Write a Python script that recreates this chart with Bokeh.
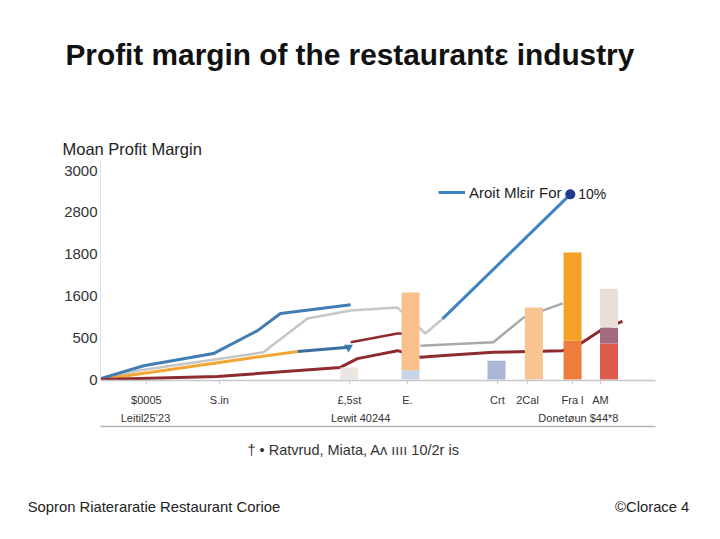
from math import pi
from bokeh.plotting import figure
from bokeh.models import Range1d, FixedTicker, LinearAxis, Label, Legend, LegendItem, Title
from bokeh.embed import file_html
from bokeh.resources import INLINE

# ---------------- data ----------------
y_tick_pos = [0, 1, 2, 3, 4, 5]
y_tick_labels = ["0", "500", "1600", "1800", "2800", "3000"]

x_row1_pos = [1.02, 2.64, 5.53, 6.82, 8.82, 9.49, 10.49, 11.11]
x_row1_labels = ["$0005", "S.in", "£,5st", "E.", "Crt", "2Cal", "Fra l", "AM"]
x_row2_pos = [1.0, 5.78, 10.62]
x_row2_labels = ["Leitil25’23", "Lewit 40244", "Donetøun $44*8"]

blue_x = [0, 0.96, 2.51, 3.49, 4.0, 5.56]
blue_y = [0.02, 0.33, 0.62, 1.17, 1.58, 1.79]

orange_x = [0, 0.89, 3.11, 4.38]
orange_y = [0, 0.14, 0.48, 0.67]

darkblue_x = [4.38, 5.51]
darkblue_y = [0.67, 0.77]

gray_x = [0, 0.89, 3.62, 4.6, 5.56, 6.6, 7.22, 7.6]
gray_y = [0.02, 0.22, 0.65, 1.46, 1.65, 1.72, 1.10, 1.45]

rise_x = [7.6, 10.44]
rise_y = [1.45, 4.43]

gray2_x = [7.11, 8.73, 9.4, 10.27]
gray2_y = [0.81, 0.89, 1.48, 1.82]

maroon_x = [0, 2.6, 5.33, 5.71, 6.6, 7.11, 7.56, 8.73, 10.27, 10.67, 11.18, 11.6]
maroon_y = [0, 0.07, 0.29, 0.50, 0.69, 0.53, 0.57, 0.65, 0.69, 0.86, 1.22, 1.39]

maroon2_x = [5.56, 6.6, 7.0]
maroon2_y = [0.89, 1.10, 1.10]

bar_x = [5.53, 6.89, 8.8, 9.63, 10.49, 11.3]
bar_low = [0.29, 0.22, 0.45, 1.72, 0.93, 0.86]
bar_mid = [0, 0, 0, 0, 0, 0.38]
bar_top = [0, 1.86, 0, 0, 2.11, 0.93]

low_colors = ["#ece6e0", "#c8d5e8", "#aab6d4", "#f8c490", "#ee7c3c", "#dd5b4c"]
mid_colors = ["#ffffff", "#ffffff", "#ffffff", "#ffffff", "#ffffff", "#a46a80"]
top_colors = ["#ffffff", "#f8c08a", "#ffffff", "#ffffff", "#f5a128", "#e8dfdb"]

footer_labels = ["Sopron Riateraratie Restaurant Corioe", "©Clorace 4"]

FONT = "Liberation Sans"

# ---------------- figure ----------------
PX = 45.0      # pixels per x unit
PY = 41.8      # pixels per y unit
FRAME_W = 555
X0, X1 = 0, FRAME_W / PX
Y0, Y1 = -1 / PY, 5.24

p = figure(width=720, height=539, output_backend="svg", toolbar_location=None,
           x_range=Range1d(X0, X1), y_range=Range1d(Y0, Y1),
           min_border_left=100, min_border_right=720 - 100 - FRAME_W, min_border_top=160,
           min_border_bottom=159, x_axis_type=None, y_axis_type=None)
p.outline_line_color = None
p.title.text = ""

# titles above (first added sits closest to the frame)
t_moan = Title(text="Moan Profit Margin", align="left", offset=-38, text_font=FONT,
               text_font_size="16.5px", text_font_style="normal", text_color="#222222",
               standoff=5)
p.add_layout(t_moan, "above")
t_gap = Title(text=" ", align="left", text_font=FONT, text_font_size="10px", standoff=52)
p.add_layout(t_gap, "above")
t_main = Title(text="Profit margin of the restaurantε industry", align="left", offset=-35,
               text_font=FONT, text_font_size="29.8px", text_font_style="bold",
               text_color="#111111", standoff=0)
p.add_layout(t_main, "above")

# y axis
yax = LinearAxis(ticker=FixedTicker(ticks=y_tick_pos))
yax.major_label_overrides = {t: l for t, l in zip(y_tick_pos, y_tick_labels)}
yax.axis_line_color = "#e2e2e2"
yax.major_tick_line_color = None
yax.major_tick_out = 0
yax.minor_tick_line_color = None
yax.major_label_text_font = FONT
yax.major_label_text_font_size = "15px"
yax.major_label_text_color = "#333333"
yax.major_label_standoff = 3
p.add_layout(yax, "left")
p.ygrid.grid_line_color = "#ebebeb"
p.ygrid.ticker = FixedTicker(ticks=y_tick_pos)

# x axes
xax = LinearAxis(ticker=FixedTicker(ticks=x_row1_pos))
xax.major_label_overrides = {t: l for t, l in zip(x_row1_pos, x_row1_labels)}
xax.axis_line_color = "#c8c8c8"
xax.axis_line_width = 1.5
xax.major_tick_line_color = "#c8c8c8"
xax.major_tick_out = 4
xax.major_tick_in = 0
xax.minor_tick_line_color = None
xax.major_label_text_font = FONT
xax.major_label_text_font_size = "11px"
xax.major_label_text_color = "#333333"
xax.major_label_standoff = 9
p.add_layout(xax, "below")

xax2 = LinearAxis(ticker=FixedTicker(ticks=x_row2_pos))
xax2.major_label_overrides = {t: l for t, l in zip(x_row2_pos, x_row2_labels)}
xax2.axis_line_color = None
xax2.major_tick_line_color = None
xax2.minor_tick_line_color = None
xax2.major_tick_out = 0
xax2.major_label_text_font = FONT
xax2.major_label_text_font_size = "11px"
xax2.major_label_text_color = "#333333"
xax2.major_label_standoff = 3
p.add_layout(xax2, "below")

spacer = LinearAxis(ticker=FixedTicker(ticks=[]))
spacer.axis_line_color = None
spacer.major_tick_line_color = None
spacer.minor_tick_line_color = None
spacer.major_tick_out = 6
spacer.major_label_standoff = 0
spacer.major_label_text_font_size = "0px"
p.add_layout(spacer, "below")

xax3 = LinearAxis(ticker=FixedTicker(ticks=[]))
xax3.axis_line_color = "#b5b5b5"
xax3.axis_line_width = 1.5
xax3.major_tick_line_color = None
xax3.minor_tick_line_color = None
xax3.major_tick_out = 0
xax3.major_label_standoff = 0
xax3.major_label_text_font_size = "0px"
p.add_layout(xax3, "below")

t_src = Title(text="† • Ratvrud, Miata, Aʌ ıııı 10/2r is", align="left",
              offset=147, text_font=FONT, text_font_size="14.5px",
              text_font_style="normal", text_color="#333333", standoff=27)
p.add_layout(t_src, "below")

# footer as an axis row (left + right texts on one line)
fw = 14.8
foot_w = [len(footer_labels[0]) * fw * 0.458, len(footer_labels[1]) * fw * 0.49]
foot_pos = [(28 + foot_w[0] / 2 - 100) / PX, (688 - foot_w[1] / 2 - 100) / PX]
fax = LinearAxis(ticker=FixedTicker(ticks=foot_pos))
fax.major_label_overrides = {t: l for t, l in zip(foot_pos, footer_labels)}
fax.axis_line_color = None
fax.major_tick_line_color = None
fax.minor_tick_line_color = None
fax.major_tick_out = 0
fax.major_label_text_font = FONT
fax.major_label_text_font_size = f"{fw}px"
fax.major_label_text_color = "#222222"
fax.major_label_standoff = 27
p.add_layout(fax, "below")

# lines (drawn under the bars)
p.line(gray_x, gray_y, line_color="#c6c6c6", line_width=2.5)
p.line(gray2_x, gray2_y, line_color="#a9a9a9", line_width=2.5)
p.line(orange_x, orange_y, line_color="#f2a735", line_width=3)
p.line(blue_x, blue_y, line_color="#3f7db3", line_width=3)
p.line(darkblue_x, darkblue_y, line_color="#3a6f9e", line_width=3)
p.scatter(darkblue_x[-1:], darkblue_y[-1:], marker="inverted_triangle", size=9,
          fill_color="#3a78b0", line_color=None)
p.line(maroon_x, maroon_y, line_color="#8e2b2e", line_width=3)
p.line(maroon2_x, maroon2_y, line_color="#8e2b2e", line_width=2.5)
rise = p.line(rise_x, rise_y, line_color="#3d84c2", line_width=3)
p.scatter(rise_x[-1:], rise_y[-1:], marker="circle", size=10, fill_color="#1e3c8c", line_color=None)

# bars (stacked segments)
low_t = bar_low
mid_t = [a + b for a, b in zip(bar_low, bar_mid)]
top_t = [a + b for a, b in zip(mid_t, bar_top)]
p.vbar(x=bar_x, width=0.4, bottom=[0] * len(bar_x), top=low_t, fill_color=low_colors, line_color=None)
p.vbar(x=bar_x, width=0.4, bottom=low_t, top=mid_t, fill_color=mid_colors, line_color=None,
       fill_alpha=[0 if m == 0 else 1 for m in bar_mid])
p.vbar(x=bar_x, width=0.4, bottom=mid_t, top=top_t, fill_color=top_colors, line_color=None,
       fill_alpha=[0 if t == 0 else 1 for t in bar_top])

legend = Legend(items=[LegendItem(label="Aroit Mlεir For", renderers=[rise])],
                location=(338, 178), padding=0, margin=0, glyph_width=27,
                label_text_font=FONT, label_text_font_size="15px",
                label_text_color="#222222", border_line_color=None,
                background_fill_alpha=0, label_standoff=4)
p.add_layout(legend, "center")
p.add_layout(Label(x=rise_x[-1], y=rise_y[-1], x_offset=8, text="10%", text_align="left",
                   text_baseline="middle", text_font=FONT, text_font_size="14px",
                   text_color="#222222"))

open("out.html", "w").write(file_html(p, INLINE))
